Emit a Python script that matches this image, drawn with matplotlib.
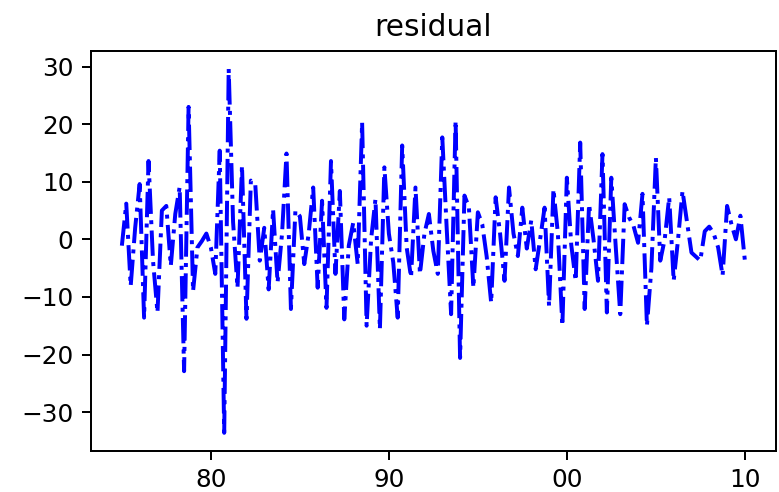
import matplotlib
matplotlib.use("Agg")
import matplotlib.pyplot as plt
import matplotlib.dates as mdates
import pandas as pd

title = "residual"
start = "1975-01-01"
residual = [
    -1.1, 6.2, -8.1, 2.0, 9.6, -13.6, 13.6, -3.7, -12.7, 5.0,
    5.8, -4.6, 4.4, 9.1, -22.9, 23.0, -9.0, -1.4, -0.3, 1.0,
    -1.4, -6.0, 15.4, -33.6, 29.6, 3.0, -8.4, 12.8, -13.8, 10.2,
    9.5, -3.7, 2.0, -8.7, 5.2, -7.5, 1.0, 14.9, -12.1, 5.0,
    4.0, -4.3, 1.0, 9.0, -8.4, 6.7, -11.9, 13.6, -6.0, 8.4,
    -13.9, -1.1, 2.9, -4.3, 20.3, -15.0, 0.0, 7.0, -15.6, 12.5,
    1.0, -4.0, -13.6, 16.3, -1.4, -6.6, 9.0, -6.0, 1.0, 4.4,
    -2.0, -6.0, 17.7, 2.0, -13.0, 20.6, -20.6, 7.6, 5.6, -8.4,
    4.7, 2.6, -3.0, -11.0, 7.3, 1.0, -7.2, 9.0, 1.0, -2.9,
    5.5, -1.6, 3.3, -5.2, 0.0, 5.5, -11.6, 8.7, 1.0, -15.0,
    10.7, -1.0, -7.2, 16.8, -12.1, 6.1, 0.0, -7.2, 14.8, -12.7,
    10.7, -1.4, -13.0, 6.1, 3.8, 2.3, -0.6, 7.9, -15.0, -5.0,
    14.2, -3.7, 0.0, 7.3, -7.2, 0.0, 8.4, 3.0, -2.3, -3.0,
    -3.7, 1.4, 2.2, 1.0, -1.4, -6.3, 5.8, 2.6, 0.0, 4.1,
    -3.7,
]
dates = pd.date_range(start=start, periods=len(residual), freq="QS")

DPI = 178
fig = plt.figure(figsize=(780 / DPI, 492 / DPI), dpi=DPI)
ax = fig.add_axes([0.1163, 0.0833, 0.8786, 0.8137])
ax.plot(dates, residual, color="blue", linestyle="-.", linewidth=1.6)
ax.set_title(title)
ax.xaxis.set_major_locator(mdates.YearLocator(10))
ax.xaxis.set_major_formatter(mdates.DateFormatter("%y"))
ax.set_yticks([-30, -20, -10, 0, 10, 20, 30])
fig.savefig("out.png", dpi=DPI)
